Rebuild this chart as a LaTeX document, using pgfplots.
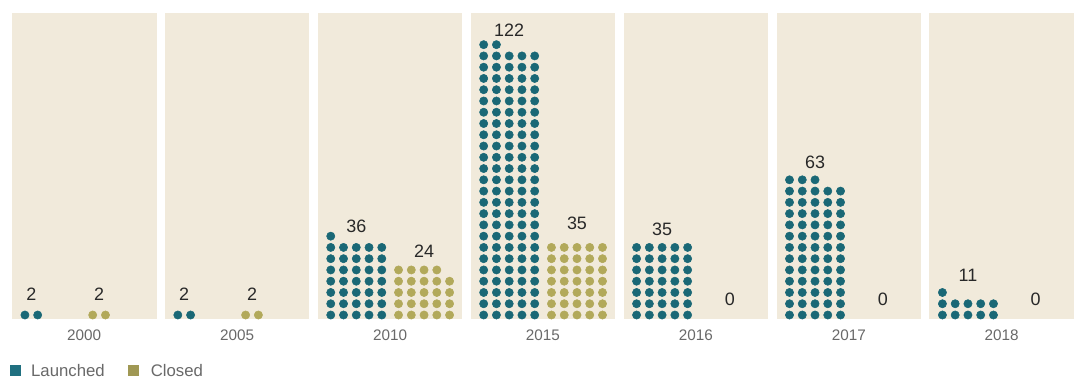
\documentclass[border=0pt]{standalone}
\usepackage{pgfplots}
\pgfplotsset{compat=1.18}
\usepackage{pgfplotstable}
\usepackage{fontspec}
\setmainfont{Liberation Sans}
\definecolor{dotL}{RGB}{26,104,118}
\definecolor{dotC}{RGB}{178,169,90}
\definecolor{panelbg}{RGB}{241,234,219}
\definecolor{numcol}{RGB}{40,40,40}
\definecolor{yrcol}{RGB}{105,105,105}
\definecolor{legL}{RGB}{32,112,128}
\definecolor{legC}{RGB}{160,152,84}

% year, launched, closed, label y-positions (px from top) for the two numbers
\pgfplotstableread{
year launched closed lyL lyC
2000 2   2  295 295
2005 2   2  295 295
2010 36  24 227 252
2015 122 35 30  224
2016 35  0  230 300
2017 63  0  163 300
2018 11  0  276 300
}\datatable

\newcommand\numfont{\fontsize{13.5}{15}\selectfont}
\newcommand\yrfont{\fontsize{11.5}{13}\selectfont}
\newcommand\legfont{\fontsize{12.6}{14}\selectfont}
\tikzset{
  numlab/.style={font=\numfont, text=numcol, inner sep=0pt},
  yrlab/.style={font=\yrfont, text=yrcol, inner sep=0pt},
  leglab/.style={font=\legfont, text=yrcol, inner sep=0pt, anchor=west},
}

\begin{document}
\begin{tikzpicture}
\gdef\Lcoords{}\gdef\Ccoords{}\gdef\Decor{}\gdef\Labels{}
\foreach \i in {0,...,6}{%
  \pgfplotstablegetelem{\i}{year}\of\datatable \xdef\yr{\pgfplotsretval}%
  \pgfplotstablegetelem{\i}{launched}\of\datatable \xdef\nL{\pgfplotsretval}%
  \pgfplotstablegetelem{\i}{closed}\of\datatable \xdef\nC{\pgfplotsretval}%
  \pgfplotstablegetelem{\i}{lyL}\of\datatable \xdef\lyL{\pgfplotsretval}%
  \pgfplotstablegetelem{\i}{lyC}\of\datatable \xdef\lyC{\pgfplotsretval}%
  \pgfmathsetmacro\px{12+153.4*\i}%
  \pgfmathsetmacro\pxr{\px+145}%
  \pgfmathsetmacro\xc{\px+72.5}%
  \pgfmathsetmacro\xL{\px+13}%
  \pgfmathsetmacro\xC{\px+81}%
  \xdef\Decor{\unexpanded\expandafter{\Decor}\noexpand\fill[panelbg] (axis cs:\px,13) rectangle (axis cs:\pxr,320); \noexpand\node[yrlab] at (axis cs:\xc,336) {\yr};}%
  \ifnum\nL>0
    \foreach \k in {1,...,\nL}{%
      \pgfmathtruncatemacro\col{mod(\k-1,5)}%
      \pgfmathtruncatemacro\row{(\k-1)/5}%
      \pgfmathsetmacro\xx{\xL+12.8*\col}%
      \pgfmathsetmacro\yy{316-11.3*\row}%
      \xdef\Lcoords{\Lcoords (\xx,\yy)}%
    }%
  \fi
  \ifnum\nC>0
    \foreach \k in {1,...,\nC}{%
      \pgfmathtruncatemacro\col{mod(\k-1,5)}%
      \pgfmathtruncatemacro\row{(\k-1)/5}%
      \pgfmathsetmacro\xx{\xC+12.8*\col}%
      \pgfmathsetmacro\yy{316-11.3*\row}%
      \xdef\Ccoords{\Ccoords (\xx,\yy)}%
    }%
  \fi
  \pgfmathtruncatemacro\cL{ifthenelse(\nL==0,5,min(\nL,5))}%
  \pgfmathtruncatemacro\cC{ifthenelse(\nC==0,5,min(\nC,5))}%
  \pgfmathsetmacro\lxL{\xL+12.8*(\cL-1)/2}%
  \pgfmathsetmacro\lxC{\xC+12.8*(\cC-1)/2}%
  \xdef\Labels{\unexpanded\expandafter{\Labels}\noexpand\node[numlab] at (axis cs:\lxL,\lyL) {\nL}; \noexpand\node[numlab] at (axis cs:\lxC,\lyC) {\nC};}%
}
\begin{axis}[
  scale only axis, width=805.5pt, height=292.5pt,
  xmin=0, xmax=1074, ymin=0, ymax=390, y dir=reverse,
  hide axis, clip=false,
]
\fill[white] (axis cs:0,0) rectangle (axis cs:1074,390);
\Decor
\edef\tmp{\noexpand\addplot[only marks, mark=*, mark size=3.1pt, color=dotL] coordinates {\Lcoords};}\tmp
\edef\tmp{\noexpand\addplot[only marks, mark=*, mark size=3.1pt, color=dotC] coordinates {\Ccoords};}\tmp
\Labels
\fill[legL] (axis cs:10,366) rectangle (axis cs:21,377);
\node[leglab] at (axis cs:31,371.5) {Launched};
\fill[legC] (axis cs:128,366) rectangle (axis cs:139,377);
\node[leglab] at (axis cs:151,371.5) {Closed};
\end{axis}
\end{tikzpicture}
\end{document}
